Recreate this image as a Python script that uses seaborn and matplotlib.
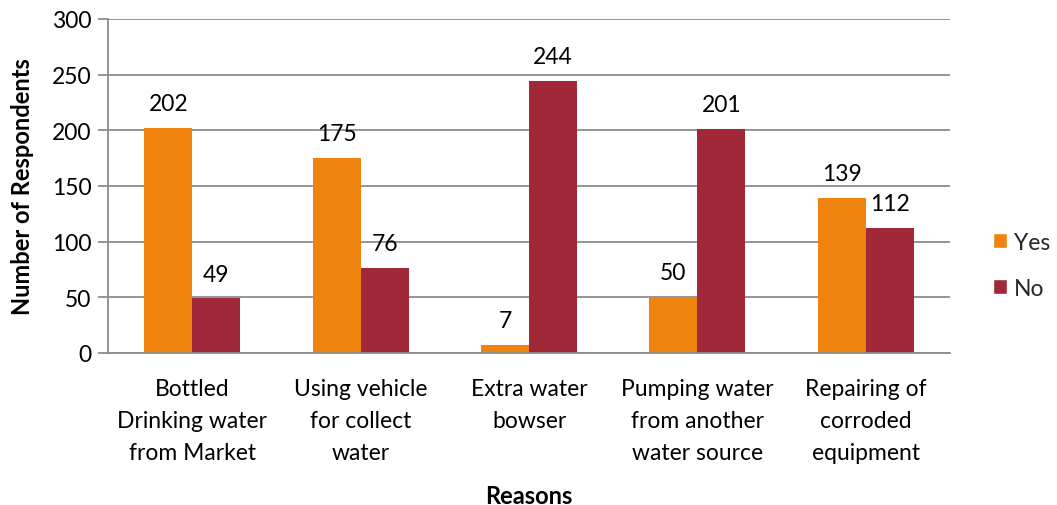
import matplotlib
matplotlib.use("Agg")
import matplotlib.pyplot as plt
import seaborn as sns
import pandas as pd
from matplotlib.patches import Patch

categories = ["Bottled\nDrinking water\nfrom Market", "Using vehicle\nfor collect\nwater",
              "Extra water\nbowser", "Pumping water\nfrom another\nwater source",
              "Repairing of\ncorroded\nequipment"]
yes_vals = [202, 175, 7, 50, 139]
no_vals = [49, 76, 244, 201, 112]
series = ["Yes", "No"]
colors = ["#F0820E", "#A02838"]
yticks = [0, 50, 100, 150, 200, 250, 300]

sns.set_theme(style="white")
plt.rcParams['font.family'] = ['Lato', 'DejaVu Sans']

FS = 16.5

df = pd.DataFrame({
    "Reason": categories * 2,
    "Response": ["Yes"] * 5 + ["No"] * 5,
    "Count": yes_vals + no_vals,
})

fig = plt.figure(figsize=(10.57, 5.06), dpi=100)
ax = fig.add_axes([0.1022, 0.3004, 0.7966, 0.6601])

sns.barplot(data=df, x="Reason", y="Count", hue="Response", order=categories,
            hue_order=series, palette=colors, width=0.57, saturation=1,
            ax=ax, legend=False, linewidth=0)

for c in ax.containers:
    ax.bar_label(c, padding=10, fontsize=FS, color="#000000")

ax.set_ylim(0, 300)
ax.set_xlim(-0.5, 4.5)
ax.set_yticks(yticks)
ax.set_yticklabels([str(v) for v in yticks], fontsize=FS, color="#000000")
ax.yaxis.grid(True, color="#8C8C8C", linewidth=1.3)
ax.set_axisbelow(True)
ax.set_xticks(range(5))
ax.set_xticklabels(categories, fontsize=FS, linespacing=1.65, color="#000000")
ax.tick_params(axis="x", length=0, pad=18)
ax.set_xticks([i - 0.5 for i in range(6)], minor=True)
ax.tick_params(axis="x", which="minor", length=8, width=1.3, color="#8C8C8C", direction="out")
ax.tick_params(axis="y", length=7, width=1.3, color="#8C8C8C", direction="out", left=True, pad=5)

for s in ["top", "right"]:
    ax.spines[s].set_visible(False)
for s in ["left", "bottom"]:
    ax.spines[s].set_color("#8C8C8C")
    ax.spines[s].set_linewidth(1.3)

ax.set_xlabel("Reasons", fontsize=17, fontweight="bold", labelpad=15, color="#000000")
ax.set_ylabel("Number of Respondents", fontsize=17, fontweight="bold", labelpad=13, color="#000000")

handles = [Patch(facecolor=colors[0], label="Yes"), Patch(facecolor=colors[1], label="No")]
fig.legend(handles=handles, loc="center left", bbox_to_anchor=(0.939, 0.474),
           frameon=False, fontsize=FS, handlelength=0.65, handleheight=0.65,
           labelspacing=1.1, handletextpad=0.3, borderpad=0, borderaxespad=0)

fig.savefig("out.png", dpi=100)
